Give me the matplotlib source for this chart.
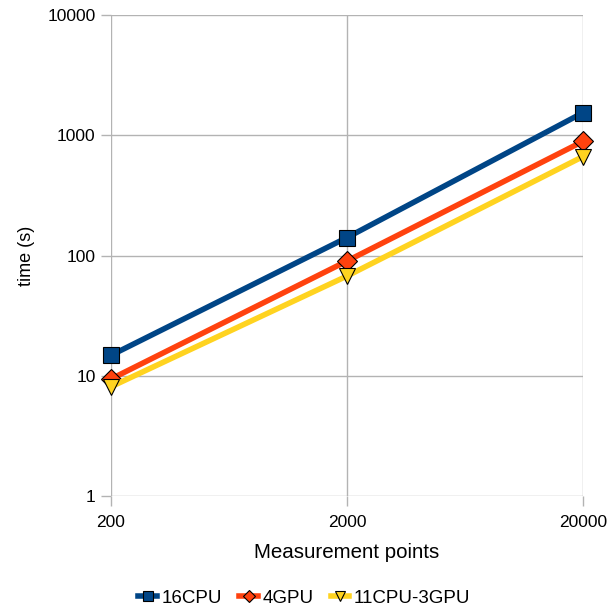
import matplotlib
matplotlib.use("Agg")
import matplotlib.pyplot as plt
from matplotlib.ticker import FixedLocator, FixedFormatter, NullLocator

plt.rcParams['font.family'] = ['Liberation Sans', 'DejaVu Sans']

points = [200, 2000, 20000]
cpu16 = [14.8, 141, 1540]
gpu4 = [9.4, 90, 890]
mixed = [8.1, 67.5, 665]
series_names = ["16CPU", "4GPU", "11CPU-3GPU"]
xticks = [200, 2000, 20000]
yticks = [1, 10, 100, 1000, 10000]

fig = plt.figure(figsize=(6.09, 6.11), dpi=100)
ax = fig.add_axes([111/609, 1 - 496/611, (583-111)/609, (496-15)/611])
ax.set_xscale('log')
ax.set_yscale('log')
ax.set_xlim(200, 20000)
ax.set_ylim(1, 10000)

grid_c = '#b3b3b3'
ax.xaxis.set_major_locator(FixedLocator(xticks))
ax.xaxis.set_major_formatter(FixedFormatter([str(v) for v in xticks]))
ax.xaxis.set_minor_locator(NullLocator())
ax.yaxis.set_major_locator(FixedLocator(yticks))
ax.yaxis.set_major_formatter(FixedFormatter([str(v) for v in yticks]))
ax.yaxis.set_minor_locator(NullLocator())
ax.grid(True, color=grid_c, linewidth=1)
ax.set_axisbelow(True)
for s in ax.spines.values():
    s.set_visible(False)
ax.tick_params(axis='both', color=grid_c, length=7, width=1, labelsize=12.5, pad=4)
ax.tick_params(axis='x', pad=7)
ax.set_xlabel("Measurement points", fontsize=14.8, labelpad=9)
ax.set_ylabel("time (s)", fontsize=13, labelpad=9)

ax.plot(points, cpu16, color='#004586', lw=4, marker='s', ms=12, mfc='#004586', mec='black', mew=0.8, label=series_names[0], clip_on=False, zorder=3)
ax.plot(points, gpu4, color='#ff420e', lw=4, marker='D', ms=10, mfc='#ff420e', mec='black', mew=0.8, label=series_names[1], clip_on=False, zorder=4)
ax.plot(points, mixed, color='#ffd320', lw=4, marker='v', ms=12, mfc='#ffd320', mec='black', mew=0.8, label=series_names[2], clip_on=False, zorder=5)

fig.legend(loc='center', bbox_to_anchor=(0.5, 1 - 598/611), ncol=3, frameon=False, fontsize=13.5,
           handlelength=1.0, handletextpad=0.25, columnspacing=0.9, markerscale=0.6)

fig.savefig("out.png", dpi=100)
